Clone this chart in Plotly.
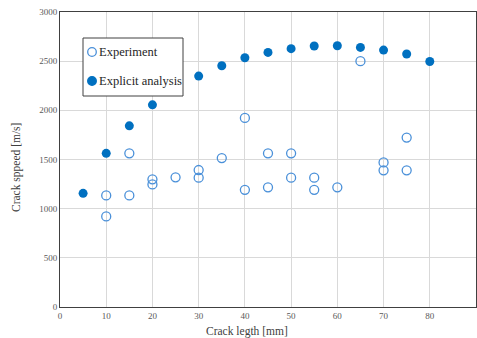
import plotly.graph_objects as go

exp_x = [10, 10, 15, 15, 20, 20, 25, 30, 30, 35, 40, 40, 45, 45, 50, 50, 55, 55, 60, 65, 70, 70, 75, 75]
exp_y = [1135, 921, 1563, 1135, 1298, 1247, 1319, 1393, 1315, 1515, 1923, 1192, 1563, 1217, 1563, 1315, 1315, 1192, 1217, 2500, 1470, 1390, 1723, 1390]

ana_x = [5, 10, 15, 20, 30, 35, 40, 45, 50, 55, 60, 65, 70, 75, 80]
ana_y = [1156, 1563, 1842, 2056, 2348, 2453, 2535, 2589, 2627, 2654, 2657, 2640, 2613, 2573, 2497]

x_ticks = [0, 10, 20, 30, 40, 50, 60, 70, 80, 90]
y_ticks = [0, 500, 1000, 1500, 2000, 2500, 3000]

series_names = ["Experiment", "Explicit analysis"]

FONT = "Liberation Serif, Times New Roman, serif"
OPEN_C = "#4a90d9"
FILL_C = "#0070C0"

# plot-area geometry (pixels)
W, H = 477, 338
ML, MR, MT, MB = 60, 1, 12, 31
PW, PH = W - ML - MR, H - MT - MB


def px(xp):
    return (xp - ML) / PW


def py(yp):
    return (H - MB - yp) / PH


fig = go.Figure()
fig.add_trace(go.Scatter(
    x=exp_x, y=exp_y, mode="markers", name=series_names[0],
    marker=dict(symbol="circle-open", size=9, color=OPEN_C, line=dict(width=1.3, color=OPEN_C)),
))
fig.add_trace(go.Scatter(
    x=ana_x, y=ana_y, mode="markers", name=series_names[1],
    marker=dict(symbol="circle", size=9, color=FILL_C),
))

axis_common = dict(
    showgrid=True, gridcolor="#d9d9d9", gridwidth=1,
    showline=True, linecolor="#404040", linewidth=1, mirror=True,
    ticks="", zeroline=False,
    tickfont=dict(family=FONT, size=9, color="#595959"),
)

fig.update_xaxes(range=[0, 90], tickvals=x_ticks, ticktext=[str(v) for v in x_ticks], **axis_common)
fig.update_yaxes(range=[0, 3000], tickvals=y_ticks, ticktext=[str(v) for v in y_ticks], **axis_common)

title_font = dict(family=FONT, size=11.5, color="#404040")
fig.add_annotation(text="Crack legth [mm]", xref="paper", yref="paper",
                   x=px(247), y=py(331), xanchor="center", yanchor="middle",
                   showarrow=False, font=title_font)
fig.add_annotation(text="Crack sppeed [m/s]", xref="paper", yref="paper",
                   x=px(16), y=py(168), xanchor="center", yanchor="middle",
                   textangle=-90, showarrow=False, font=title_font)

# legend box (drawn manually so it stays compact like the original)
fig.add_shape(type="rect", xref="paper", yref="paper",
              x0=px(83), x1=px(183), y0=py(38), y1=py(96),
              line=dict(color="#404040", width=1), fillcolor="white", layer="above")
r = 4.3
leg_rows = [(52, "open"), (81, "fill")]
for (yc, kind), name in zip(leg_rows, series_names):
    fig.add_shape(type="circle", xref="paper", yref="paper",
                  x0=px(92 - r), x1=px(92 + r), y0=py(yc + r), y1=py(yc - r),
                  line=dict(color=OPEN_C if kind == "open" else FILL_C, width=1.3),
                  fillcolor="white" if kind == "open" else FILL_C, layer="above")
    fig.add_annotation(text=name, xref="paper", yref="paper",
                       x=px(96.5), y=py(yc), xanchor="left", yanchor="middle",
                       showarrow=False, font=dict(family=FONT, size=12.5, color="#262626"))

fig.update_layout(
    width=W, height=H,
    margin=dict(l=ML, r=MR, t=MT, b=MB),
    paper_bgcolor="white", plot_bgcolor="white",
    showlegend=False,
)

fig.write_html("out.html")
